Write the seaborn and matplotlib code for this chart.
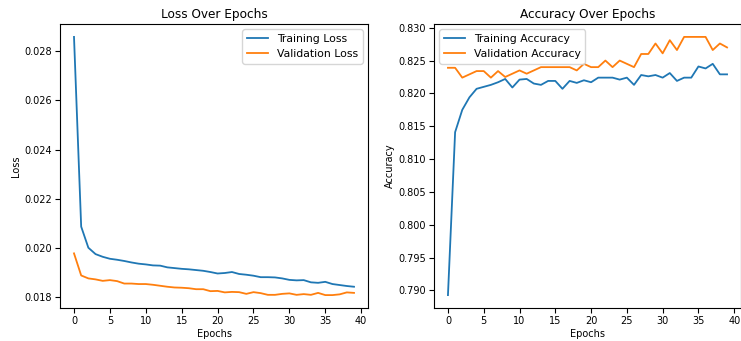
import numpy as np
import pandas as pd
import matplotlib
matplotlib.use("Agg")
import matplotlib.pyplot as plt
import seaborn as sns

# ── data ─────────────────────────────────────────────────────────────────────
epochs = list(range(40))

train_loss = [0.02859, 0.02086, 0.02000, 0.01974, 0.01963, 0.01955, 0.01951, 0.01946,
              0.01940, 0.01935, 0.01932, 0.01928, 0.01927, 0.01920, 0.01917, 0.01914,
              0.01912, 0.01909, 0.01906, 0.01901, 0.01895, 0.01897, 0.01901, 0.01893,
              0.01890, 0.01886, 0.01880, 0.01880, 0.01879, 0.01875, 0.01869, 0.01867,
              0.01868, 0.01859, 0.01857, 0.01861, 0.01852, 0.01848, 0.01844, 0.01841]
val_loss = [0.01977, 0.01887, 0.01875, 0.01871, 0.01865, 0.01868, 0.01864, 0.01854,
            0.01854, 0.01852, 0.01852, 0.01849, 0.01845, 0.01841, 0.01838, 0.01837,
            0.01835, 0.01831, 0.01831, 0.01823, 0.01824, 0.01818, 0.01820, 0.01819,
            0.01812, 0.01819, 0.01815, 0.01808, 0.01808, 0.01812, 0.01814, 0.01808,
            0.01811, 0.01808, 0.01816, 0.01807, 0.01807, 0.01810, 0.01818, 0.01816]

train_acc = [0.7893, 0.8141, 0.8175, 0.8194, 0.8207, 0.8210, 0.8213, 0.8217,
             0.8222, 0.8209, 0.8221, 0.8222, 0.8215, 0.8213, 0.8219, 0.8219,
             0.8207, 0.8219, 0.8216, 0.8220, 0.8217, 0.8224, 0.8224, 0.8224,
             0.8221, 0.8224, 0.8213, 0.8228, 0.8226, 0.8228, 0.8224, 0.8231,
             0.8219, 0.8224, 0.8224, 0.8241, 0.8238, 0.8245, 0.8229, 0.8229]
val_acc = [0.8239, 0.8239, 0.8224, 0.8229, 0.8234, 0.8234, 0.8224, 0.8234,
           0.8225, 0.8230, 0.8235, 0.8230, 0.8235, 0.8240, 0.8240, 0.8240,
           0.8240, 0.8240, 0.8235, 0.8245, 0.8240, 0.8240, 0.8250, 0.8240,
           0.8250, 0.8245, 0.8240, 0.8260, 0.8260, 0.8276, 0.8261, 0.8281,
           0.8266, 0.8286, 0.8286, 0.8286, 0.8286, 0.8266, 0.8276, 0.8270]

plt.rcParams["font.size"] = 7
plt.rcParams["legend.fontsize"] = 7.8
plt.rcParams["xtick.major.pad"] = 2.5
plt.rcParams["ytick.major.pad"] = 2.5
plt.rcParams["axes.labelpad"] = 2
plt.rcParams["axes.titlepad"] = 4

fig = plt.figure(figsize=(7.41, 3.41), dpi=100)
ax1 = fig.add_axes([60 / 741, 33 / 341, 308 / 741, 284 / 341])
ax2 = fig.add_axes([434 / 741, 33 / 341, 307 / 741, 284 / 341])

# ── loss ─────────────────────────────────────────────────────────────────────
sns.lineplot(x=epochs, y=train_loss, ax=ax1, label="Training Loss", color="tab:blue", lw=1.3)
sns.lineplot(x=epochs, y=val_loss, ax=ax1, label="Validation Loss", color="tab:orange", lw=1.3)
ax1.set_title("Loss Over Epochs", fontsize=8.7)
ax1.set_xlabel("Epochs")
ax1.set_ylabel("Loss")
ax1.set_xticks(range(0, 41, 5))
ax1.legend(loc="upper right")

# ── accuracy ─────────────────────────────────────────────────────────────────
sns.lineplot(x=epochs, y=train_acc, ax=ax2, label="Training Accuracy", color="tab:blue", lw=1.3)
sns.lineplot(x=epochs, y=val_acc, ax=ax2, label="Validation Accuracy", color="tab:orange", lw=1.3)
ax2.set_title("Accuracy Over Epochs", fontsize=8.7)
ax2.set_xlabel("Epochs")
ax2.set_ylabel("Accuracy")
ax2.set_xticks(range(0, 41, 5))
ax2.legend(loc="upper left")

plt.savefig("out.png", dpi=100)
plt.close()
